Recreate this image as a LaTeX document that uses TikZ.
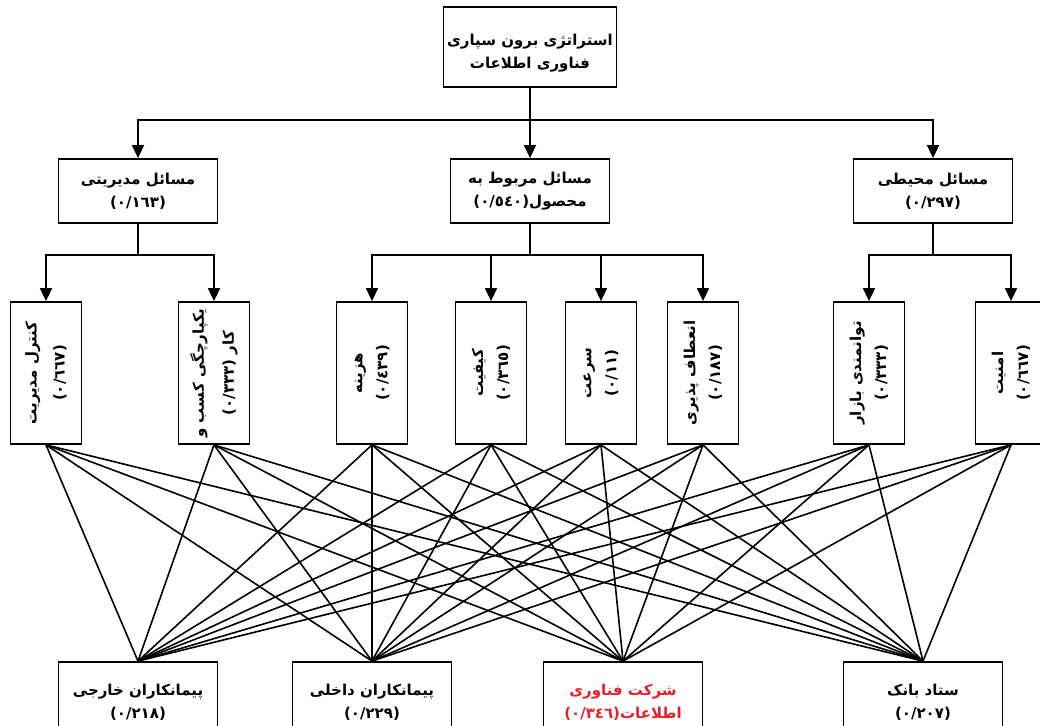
\documentclass[tikz,border=0pt]{standalone}
\usepackage{fontspec}
\newfontfamily\arabicfont[Script=Arabic]{DejaVu Sans}
\TeXXeTstate=1
\usetikzlibrary{arrows.meta}
\definecolor{redtxt}{RGB}{235,30,40}
\newcommand{\myR}[1]{\beginR #1\endR}
\begin{document}
\begin{tikzpicture}[x=1pt,y=-1pt,
  box/.style={draw, line width=1.8pt, inner sep=0pt, align=center,
    font=\arabicfont\bfseries\fontsize{15}{23}\selectfont},
  hbox/.style={box, minimum width=159pt, minimum height=64pt},
  vbox/.style={box, rotate=90, minimum width=142pt, minimum height=71pt,
    font=\arabicfont\bfseries\fontsize{15}{25}\selectfont},
  tree/.style={line width=1.6pt},
  arr/.style={tree, -{Triangle[length=13pt,width=12pt]}},
  conn/.style={line width=1.6pt}]
\useasboundingbox (0,0) rectangle (1040,725);
\clip (0,0) rectangle (1040,725);
% top
\node[box, minimum width=173pt, minimum height=80pt] (top) at (530,47)
  {\myR{\rule{0pt}{24pt}استراتژی برون سپاری}\\\myR{فناوری اطلاعات}};
% level 2
\node[hbox] (m1) at (138,191) {\myR{مسائل مدیریتی}\\(٠/١٦٣)};
\node[hbox] (m2) at (530,191) {\myR{مسائل مربوط به}\\\myR{محصول\kern0pt(٠/٥٤٠)}};
\node[hbox] (m3) at (933,191) {\myR{مسائل محیطی}\\(٠/٢٩٧)};
% level 3
\node[vbox, font=\arabicfont\bfseries\fontsize{15}{28}\selectfont] (k1) at (46,373) {\myR{کنترل مدیریت}\\(٠/٦٦٧)};
\node[vbox, font=\arabicfont\bfseries\fontsize{15}{30}\selectfont] (k2) at (214,373) {\myR{یکپارچگی کسب و}\\\myR{کار (٠/٣٣٣)}};
\node[vbox] (k3) at (372,373) {هزینه\\(٠/٤٣٩)};
\node[vbox] (k4) at (491,373) {کیفیت\\(٠/٣٦٥)};
\node[vbox] (k5) at (601,373) {سرعت\\(٠/١١)};
\node[vbox] (k6) at (703,373) {\myR{انعطاف پذیری}\\(٠/١٨٧)};
\node[vbox] (k7) at (869,373) {\myR{توانمندی بازار}\\(٠/٣٣٣)};
\node[vbox] (k8) at (1011,373) {امنیت\\(٠/٦٦٧)};
% bottom
\node[hbox, minimum height=80pt] (b1) at (138,702) {\myR{پیمانکاران خارجی}\\(٠/٢١٨)};
\node[hbox, minimum height=80pt] (b2) at (372,702) {\myR{پیمانکاران داخلی}\\(٠/٢٢٩)};
\node[hbox, minimum height=80pt, text=redtxt] (b3) at (623,702) {\myR{شرکت فناوری}\\\myR{اطلاعات\kern0pt(٠/٣٤٦)}};
\node[hbox, minimum height=80pt] (b4) at (923,702) {\myR{ستاد بانک}\\(٠/٢٠٧)};
% tree connectors
\coordinate (j0) at (530,120);
\coordinate (j1) at (138,255);
\coordinate (j2) at (530,255);
\coordinate (j3) at (933,255);
\draw[tree] (top.south) -- (j0);
\draw[arr] (j0) -| (m1.north);
\draw[arr] (j0) -- (m2.north);
\draw[arr] (j0) -| (m3.north);
\draw[tree] (m1.south) -- (j1);
\draw[tree] (m2.south) -- (j2);
\draw[tree] (m3.south) -- (j3);
\draw[arr] (j1) -| (k1.east);
\draw[arr] (j1) -| (k2.east);
\draw[arr] (j2) -| (k3.east);
\draw[arr] (j2) -| (k4.east);
\draw[arr] (j2) -| (k5.east);
\draw[arr] (j2) -| (k6.east);
\draw[arr] (j3) -| (k7.east);
\draw[arr] (j3) -| (k8.east);
% cross connectors
\foreach \a in {k1,k2,k3,k4,k5,k6,k7,k8}
  \foreach \b in {b1,b2,b3,b4}
    \draw[conn] (\a.west) -- (\b.north);
\end{tikzpicture}
\end{document}
